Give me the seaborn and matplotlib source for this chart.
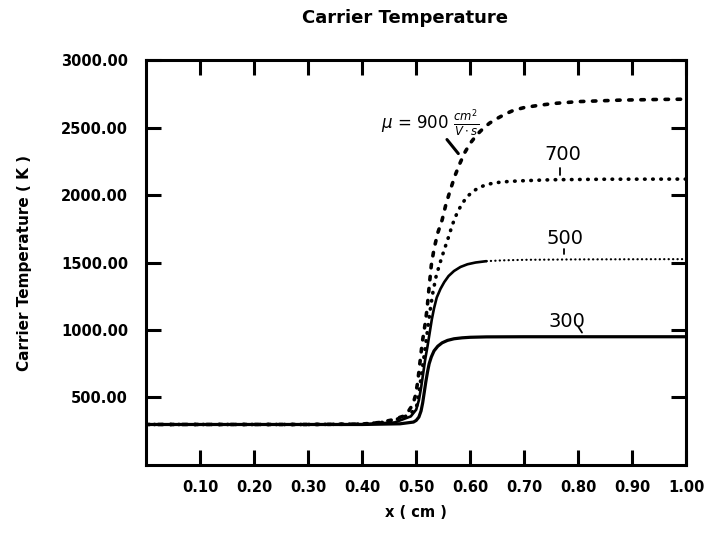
import matplotlib
matplotlib.use("Agg")
import matplotlib.pyplot as plt
import seaborn as sns

# ---- data ----
x_900 = [0.00, 0.30, 0.40, 0.433, 0.457, 0.475, 0.486, 0.494, 0.499, 0.503, 0.507, 0.511, 0.516,
         0.520, 0.524, 0.528, 0.533, 0.540, 0.548, 0.555, 0.563, 0.572, 0.581, 0.590, 0.600,
         0.612, 0.624, 0.636, 0.649, 0.665, 0.680, 0.700, 0.723, 0.754, 0.80, 0.878, 0.95, 1.00]
y_900 = [300, 300, 303, 315, 335, 360, 400, 450, 520, 620, 760, 900, 1030,
         1150, 1320, 1480, 1600, 1720, 1815, 1930, 2035, 2145, 2235, 2315, 2383,
         2445, 2493, 2533, 2565, 2600, 2627, 2648, 2662, 2678, 2692, 2703, 2708, 2710]

x_700 = [0.00, 0.30, 0.40, 0.45, 0.480, 0.495, 0.501, 0.505, 0.509, 0.513, 0.517, 0.521, 0.526,
         0.531, 0.537, 0.544, 0.552, 0.560, 0.567, 0.575, 0.584, 0.594, 0.606, 0.619, 0.633,
         0.649, 0.670, 0.693, 0.75, 0.85, 1.00]
y_700 = [300, 300, 303, 320, 360, 400, 440, 530, 650, 760, 880, 1000, 1150,
         1280, 1400, 1495, 1595, 1690, 1780, 1860, 1930, 1986, 2030, 2060, 2080,
         2092, 2100, 2105, 2113, 2117, 2118]

x_500 = [0.00, 0.30, 0.40, 0.46, 0.490, 0.500, 0.505, 0.509, 0.513, 0.517, 0.521, 0.525, 0.529,
         0.533, 0.538, 0.545, 0.552, 0.560, 0.570, 0.582, 0.595, 0.610, 0.630, 0.660, 0.700,
         0.80, 0.90, 1.00]
y_500 = [300, 300, 302, 315, 360, 410, 480, 570, 680, 790, 880, 980, 1080,
         1160, 1240, 1305, 1355, 1400, 1437, 1467, 1487, 1500, 1510, 1516, 1520,
         1523, 1524, 1525]

x_300 = [0.00, 0.30, 0.40, 0.47, 0.495, 0.500, 0.505, 0.509, 0.512, 0.515, 0.518, 0.521, 0.524,
         0.528, 0.533, 0.540, 0.548, 0.558, 0.570, 0.585, 0.600, 0.630, 0.700, 0.80, 0.90, 1.00]
y_300 = [300, 300, 300, 305, 318, 330, 355, 400, 460, 540, 620, 690, 750,
         800, 845, 880, 905, 923, 935, 942, 946, 949, 950, 950, 950, 950]

x_ticks = [0.10, 0.20, 0.30, 0.40, 0.50, 0.60, 0.70, 0.80, 0.90, 1.00]
x_ticklabels = ["0.10", "0.20", "0.30", "0.40", "0.50", "0.60", "0.70", "0.80", "0.90", "1.00"]
y_ticks = [500, 1000, 1500, 2000, 2500, 3000]
y_ticklabels = ["500.00", "1000.00", "1500.00", "2000.00", "2500.00", "3000.00"]

sns.set_theme(style="ticks")
plt.rcParams["font.family"] = ["DejaVu Sans"]

fig = plt.figure(figsize=(7.06, 5.36), dpi=100)
ax = fig.add_axes([0.207, 0.1325, 0.765, 0.7555])

K = "black"
sns.lineplot(x=x_300, y=y_300, ax=ax, color=K, lw=2.3, sort=False, estimator=None)

split = 22  # index where the 500 curve turns into a fine dotted line (x = 0.63)
sns.lineplot(x=x_500[:split + 1], y=y_500[:split + 1], ax=ax, color=K, lw=1.9,
             sort=False, estimator=None)
l5 = sns.lineplot(x=x_500[split:], y=y_500[split:], ax=ax, color=K, lw=1.6,
                  sort=False, estimator=None).lines[-1]
l5.set_dashes((0.1, 1.9))

l7 = sns.lineplot(x=x_700, y=y_700, ax=ax, color=K, lw=2.6, sort=False,
                  estimator=None).lines[-1]
l7.set_dashes((0.15, 2.1))
l9 = sns.lineplot(x=x_900, y=y_900, ax=ax, color=K, lw=2.6, sort=False,
                  estimator=None).lines[-1]
l9.set_dashes((0.95, 2.4))
for ln in (l5, l7, l9):
    ln.set_dash_capstyle("round")

ax.set_xlim(0, 1.0)
ax.set_ylim(0, 3000)
ax.set_xticks(x_ticks)
ax.set_xticklabels(x_ticklabels, fontweight="bold", fontsize=10.5)
ax.set_yticks(y_ticks)
ax.set_yticklabels(y_ticklabels, fontweight="bold", fontsize=10.5)
ax.tick_params(axis="both", direction="in", length=11, width=2.2, color=K,
               top=True, right=True, labelcolor=K)
ax.tick_params(axis="x", pad=11)
ax.tick_params(axis="y", pad=13)
for s in ax.spines.values():
    s.set_visible(True)
    s.set_linewidth(2.2)
    s.set_color(K)

ax.set_xlabel("x ( cm )", fontweight="bold", fontsize=10.5, labelpad=7, color=K)
ax.set_ylabel("Carrier Temperature ( K )", fontweight="bold", fontsize=11,
              labelpad=21, color=K)
fig.text(0.574, 0.966, "Carrier Temperature", ha="center", va="center",
         fontweight="bold", fontsize=13, color=K)

lab = dict(family=["Liberation Sans Narrow", "DejaVu Sans"], fontsize=14, color=K,
           ha="center", va="center")
ax.text(0.772, 2300, "700", **lab)
ax.text(0.776, 1680, "500", **lab)
ax.text(0.779, 1063, "300", **lab)
ax.text(0.526, 2540, r"$\mu$ = 900 $\frac{cm^2}{V\cdot s}$",
        family=["Liberation Sans Narrow", "DejaVu Sans"], fontsize=12, color=K,
        ha="center", va="center")
ax.plot([0.767, 0.767], [2200, 2150], color=K, lw=1.3)
ax.plot([0.773, 0.773], [1597, 1560], color=K, lw=1.3)
ax.plot([0.800, 0.807], [1025, 981], color=K, lw=1.3)
ax.plot([0.557, 0.578], [2411, 2307], color=K, lw=2.2)

fig.savefig("out.png", dpi=100, facecolor="white")
